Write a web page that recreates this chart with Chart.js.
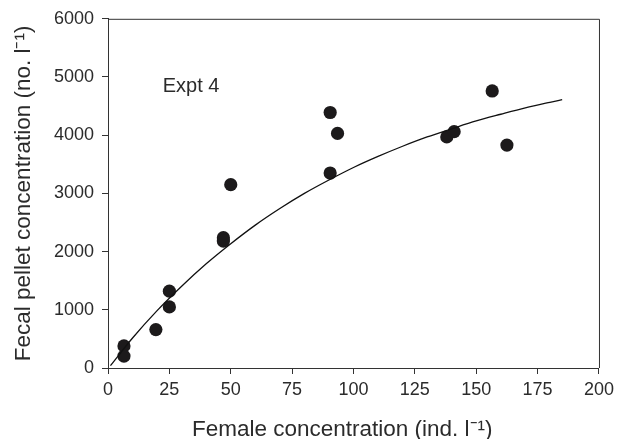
<!DOCTYPE html>
<html><head><meta charset="utf-8">
<script src="https://cdn.jsdelivr.net/npm/chart.js@4/dist/chart.umd.min.js"></script>
<style>html,body{margin:0;padding:0;background:#fff}#wrap{width:619px;height:439px}</style>
</head><body><div id="wrap"><canvas id="c" width="619" height="439"></canvas></div>
<script>
// observed points
const femaleConc = [6.5, 6.5, 19.5, 25, 25, 47, 47, 50, 90.5, 90.5, 93.5, 138, 141, 156.5, 162.5];
const pelletConc = [380, 205, 660, 1320, 1050, 2240, 2180, 3150, 4390, 3350, 4030, 3970, 4060, 4760, 3830];
// fitted curve
const curveX = [1, 10, 20, 30, 40, 50, 60, 70, 80, 90, 100, 110, 120, 130, 140, 150, 160, 170, 180, 185];
const curveY = [40, 515, 985, 1405, 1790, 2135, 2455, 2740, 3000, 3230, 3445, 3635, 3810, 3970, 4110, 4245, 4360, 4470, 4565, 4610];
const xTicks = [0, 25, 50, 75, 100, 125, 150, 175, 200];
const yTicks = [0, 1000, 2000, 3000, 4000, 5000, 6000];
const annotationText = 'Expt 4';
const xTitle = 'Female concentration (ind. l⁻¹)';
const yTitle = 'Fecal pellet concentration (no. l⁻¹)';

const txt = '#2b2b2b';
const fam = 'Liberation Sans, Arial, sans-serif';

const boxPlugin = {
  id: 'box',
  afterDraw(chart) {
    const {ctx, chartArea: a, scales} = chart;
    ctx.save();
    ctx.strokeStyle = '#333';
    ctx.lineWidth = 1;
    ctx.beginPath();
    ctx.moveTo(a.left, a.top + 0.5); ctx.lineTo(a.right + 0.5, a.top + 0.5); ctx.lineTo(a.right + 0.5, a.bottom);
    ctx.stroke();
    ctx.fillStyle = txt;
    ctx.font = '20px ' + fam;
    ctx.textBaseline = 'middle';
    ctx.textAlign = 'left';
    ctx.fillText(annotationText, scales.x.getPixelForValue(22.3), scales.y.getPixelForValue(4830));
    // x axis title (centred slightly left of the plot centre, as in the original)
    ctx.font = '22.5px ' + fam;
    ctx.textAlign = 'center';
    ctx.textBaseline = 'alphabetic';
    ctx.fillText(xTitle, a.left + (a.right - a.left) * 0.477, 436);
    ctx.restore();
  }
};

new Chart(document.getElementById('c'), {
  type: 'scatter',
  data: {
    datasets: [
      {
        type: 'line',
        data: curveX.map((x, i) => ({x, y: curveY[i]})),
        borderColor: '#111',
        borderWidth: 1.3,
        pointRadius: 0,
        tension: 0.4,
        cubicInterpolationMode: 'monotone',
        fill: false
      },
      {
        data: femaleConc.map((x, i) => ({x, y: pelletConc[i]})),
        backgroundColor: '#1c1a1b',
        borderColor: '#1c1a1b',
        borderWidth: 0,
        pointRadius: 6.6,
        pointHoverRadius: 6.6
      }
    ]
  },
  options: {
    responsive: false,
    animation: false,
    events: [],
    layout: {padding: {left: 0, right: 17, top: 18, bottom: 0}},
    plugins: {legend: {display: false}, tooltip: {enabled: false}},
    scales: {
      x: {
        type: 'linear', min: 0, max: 200,
        afterBuildTicks(s) { s.ticks = xTicks.map(v => ({value: v})); },
        afterFit(s) { s.height = 71; },
        grid: {display: true, drawOnChartArea: false, drawTicks: true, tickLength: 6, color: '#333', tickColor: '#333'},
        border: {display: true, color: '#333', width: 1},
        ticks: {color: txt, font: {family: fam, size: 18}, padding: 5, maxRotation: 0, callback: v => String(v)},
        title: {display: false, text: xTitle}
      },
      y: {
        type: 'linear', min: 0, max: 6000,
        afterBuildTicks(s) { s.ticks = yTicks.map(v => ({value: v})); },
        afterFit(s) { s.width = 108; },
        grid: {display: true, drawOnChartArea: false, drawTicks: true, tickLength: 6, color: '#333', tickColor: '#333'},
        border: {display: true, color: '#333', width: 1},
        ticks: {color: txt, font: {family: fam, size: 18}, padding: 8, callback: v => String(v)},
        title: {display: true, text: yTitle, color: txt, font: {family: fam, size: 22.5, lineHeight: 1}, padding: {top: 13, bottom: 0}}
      }
    }
  },
  plugins: [boxPlugin]
});
</script></body></html>
